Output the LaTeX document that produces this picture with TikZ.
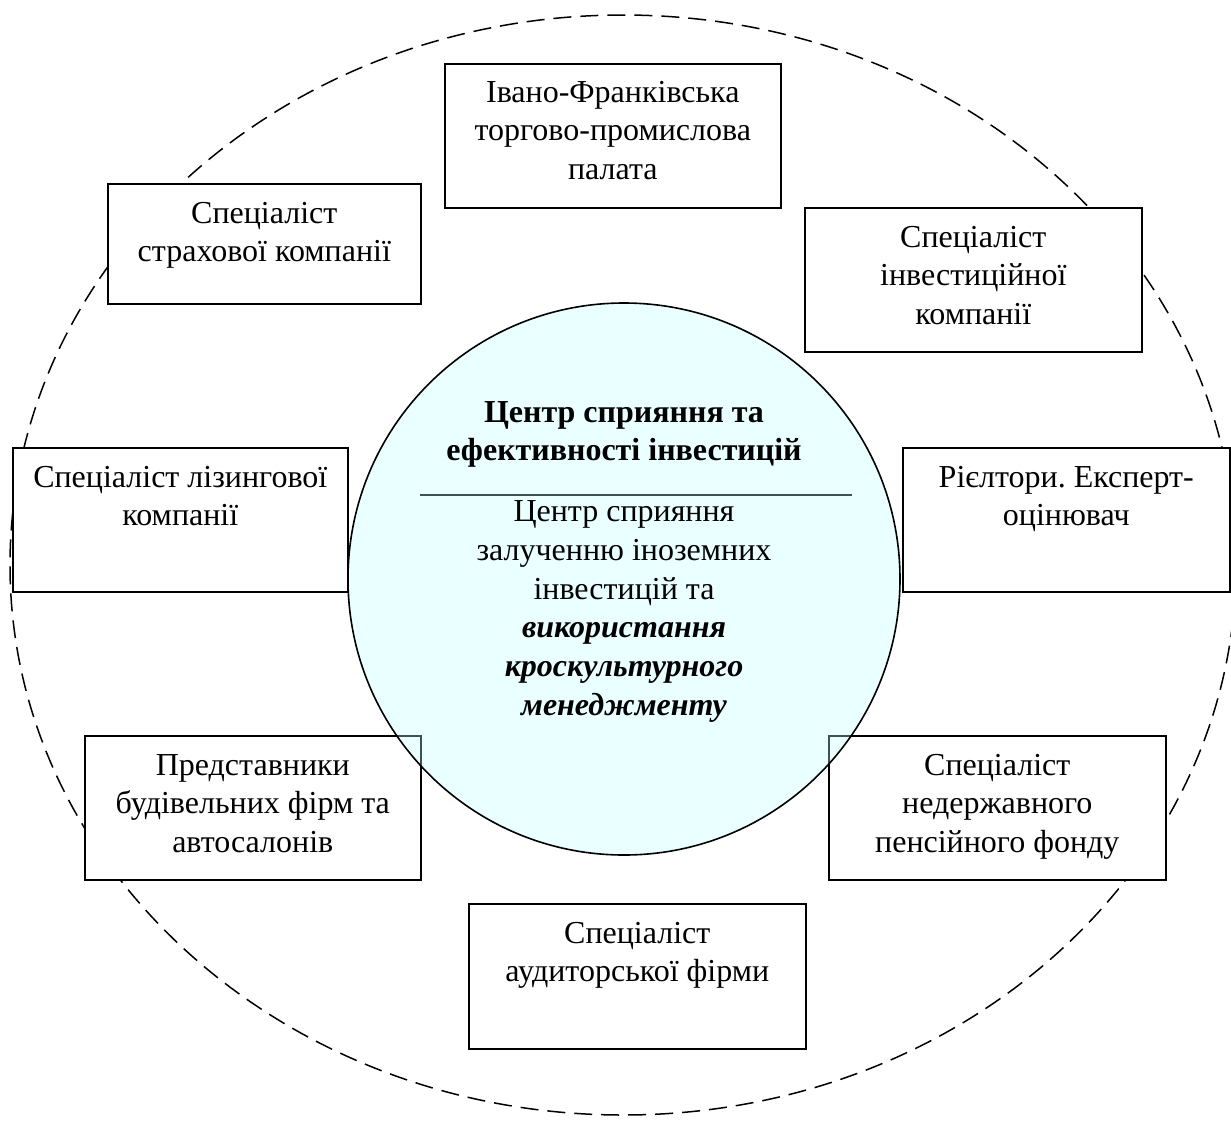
\documentclass[tikz,border=0pt]{standalone}
\usepackage{fontspec}
\setmainfont{Liberation Serif}
\frenchspacing
\definecolor{circfill}{RGB}{190,255,255}
\newcommand{\mylines}[2]{\parbox[t]{#1}{\centering\frenchspacing\fontsize{32}{38.7}\selectfont #2}}
\tikzset{
  box/.style={draw, line width=1.6pt, fill=white, inner sep=0pt, anchor=north west},
  lbl/.style={anchor=base, inner sep=0pt},
  outer/.style={line width=1.5pt, dash pattern=on 18pt off 9pt},
  centre/.style={circle, draw, line width=1.6pt, fill=circfill, fill opacity=0.32, draw opacity=1, inner sep=0pt, minimum size=552pt}
}
\begin{document}
\begin{tikzpicture}[x=1pt,y=-1pt]
\useasboundingbox (0,0) rectangle (1231,1120);
% outer dashed ellipse
\draw[outer] (623,565) ellipse [x radius=613, y radius=550];
% boxes
\node[box, minimum width=336pt, minimum height=144pt] (b1) at (444,63) {};
\node[box, minimum width=313pt, minimum height=120pt] (b2) at (107,183) {};
\node[box, minimum width=337pt, minimum height=144pt] (b3) at (804,207) {};
\node[box, minimum width=335pt, minimum height=144pt] (b4) at (12,447) {};
\node[box, minimum width=327pt, minimum height=144pt] (b5) at (902,447) {};
\node[box, minimum width=336pt, minimum height=144pt] (b6) at (84,735) {};
\node[box, minimum width=337pt, minimum height=144pt] (b7) at (828,735) {};
\node[box, minimum width=337pt, minimum height=145pt] (b8) at (468,903) {};
% separator line inside the centre
\coordinate (l1) at (420,495);
\coordinate (l2) at (852,495);
\draw[line width=1.3pt] (l1) -- (l2);
% centre circle
\node[centre] (c) at (624,579) {};
% box texts
\node[lbl] (t1) at ([yshift=-39pt]b1.north) {\mylines{330pt}{Івано-Франківська\\торгово-промислова\\палата}};
\node[lbl] (t2) at ([yshift=-40pt]b2.north) {\mylines{310pt}{Спеціаліст\\страхової компанії}};
\node[lbl] (t3) at ([yshift=-40pt]b3.north) {\mylines{330pt}{Спеціаліст\\інвестиційної\\компанії}};
\node[lbl] (t4) at ([yshift=-40pt]b4.north) {\mylines{334pt}{Спеціаліст лізингової\\компанії}};
\node[lbl] (t5) at ([yshift=-40pt]b5.north) {\mylines{326pt}{Рієлтори. Експерт-\\оцінювач}};
\node[lbl] (t6) at ([yshift=-40pt]b6.north) {\mylines{334pt}{Представники\\будівельних фірм та\\автосалонів}};
\node[lbl] (t7) at ([yshift=-40pt]b7.north) {\mylines{334pt}{Спеціаліст\\недержавного\\пенсійного фонду}};
\node[lbl] (t8) at ([yshift=-40pt]b8.north) {\mylines{334pt}{Спеціаліст\\аудиторської фірми}};
% centre texts
\node[lbl] (ct1) at (624,422) {\mylines{450pt}{\bfseries Центр сприяння та\\ефективності інвестицій}};
\node[lbl] (ct2) at (624,521.7) {\mylines{450pt}{Центр сприяння\\залученню іноземних\\інвестицій та\\{\bfseries\itshape використання\\кроскультурного\\менеджменту}}};
\end{tikzpicture}
\end{document}
